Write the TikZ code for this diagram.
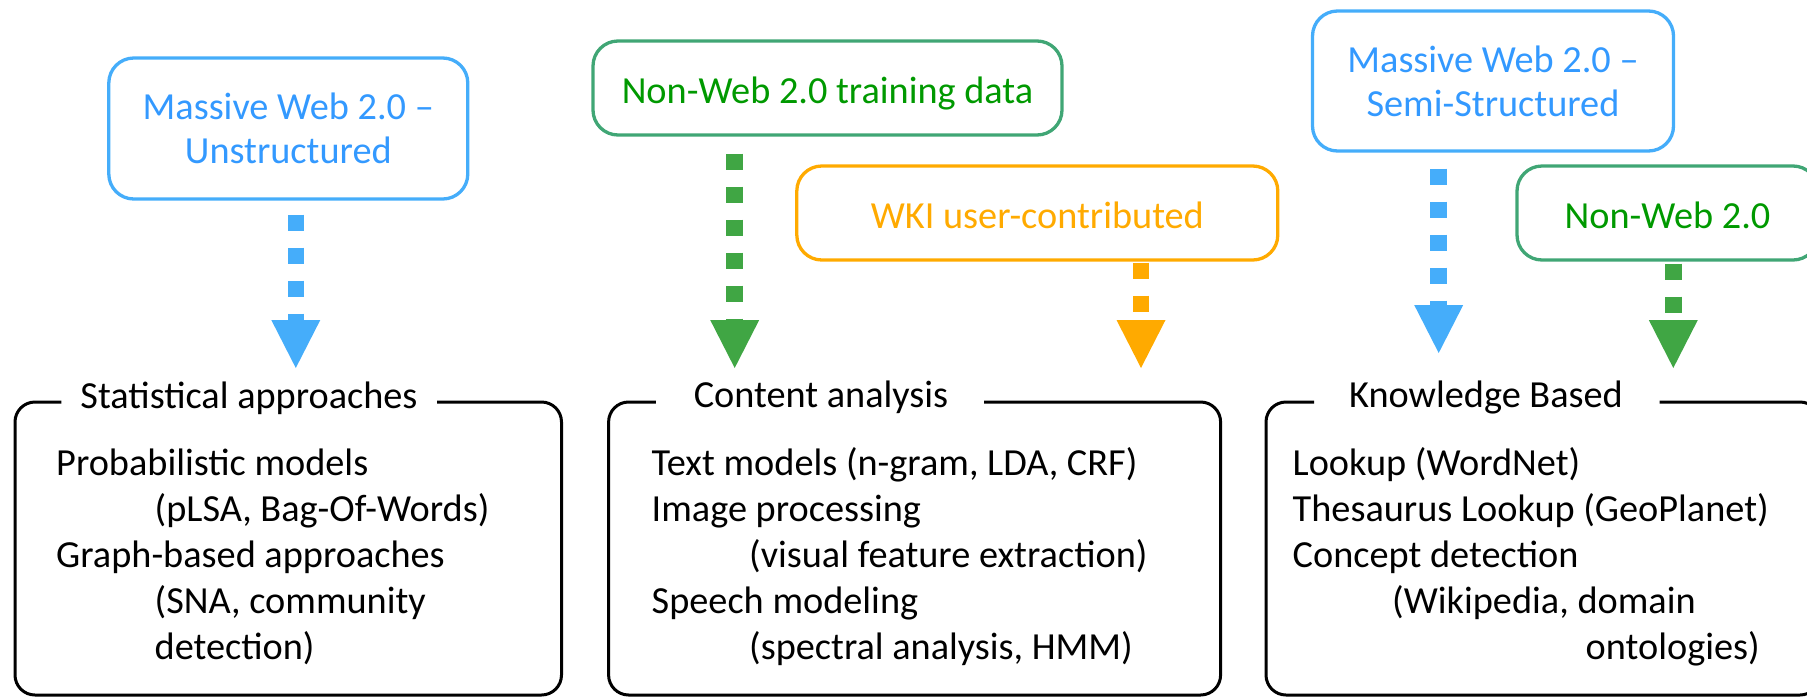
\documentclass[tikz,border=0pt]{standalone}
\usepackage{fontspec}
\setmainfont{Carlito}
\usetikzlibrary{arrows.meta}

\definecolor{webblue}{RGB}{69,173,250}
\definecolor{webbluetext}{RGB}{51,153,255}
\definecolor{nwgreen}{RGB}{64,166,117}
\definecolor{nwgreentext}{RGB}{0,153,0}
\definecolor{nwgreenarrow}{RGB}{64,166,68}
\definecolor{wkiorange}{RGB}{255,170,0}

\tikzset{
  src/.style={draw, rounded corners=25pt, line width=3.3pt, align=center, inner sep=0pt,
    font=\fontsize{38.3}{44}\selectfont},
  oneline/.style={text height=30pt, text depth=0pt},
  flow/.style={dash pattern=on 16pt off 17pt, line width=16.5pt,
    -{Triangle[width=49pt,length=48pt,line width=0pt]}},
  frame/.style={draw=black, line width=3pt, rounded corners=20pt},
  heading/.style={anchor=base, inner sep=0pt, font=\fontsize{38.3}{46}\selectfont},
  item/.style={anchor=base west, inner sep=0pt, font=\fontsize{38.3}{46}\selectfont},
}

\begin{document}
\begin{tikzpicture}[x=1pt, y=-1pt]
\useasboundingbox (0,0) rectangle (1807,697);
\clip (0,0) rectangle (1807,697);

% data sources
\node[src, draw=webblue, text=webbluetext, minimum width=359pt, minimum height=141pt]
  (b1) at (288.3,128.5) {Massive Web 2.0 –\\Unstructured};
\node[src, oneline, draw=nwgreen, text=nwgreentext, minimum width=469pt, minimum height=94pt]
  (b2) at (827.5,88) {Non-Web 2.0 training data};
\node[src, oneline, draw=wkiorange, text=wkiorange, minimum width=481pt, minimum height=94pt]
  (b3) at (1037.3,213) {WKI user-contributed};
\node[src, draw=webblue, text=webbluetext, minimum width=361pt, minimum height=140pt]
  (b4) at (1493,81) {Massive Web 2.0 –\\Semi-Structured};
\node[src, oneline, draw=nwgreen, text=nwgreentext, minimum width=301pt, minimum height=94pt]
  (b5) at (1667.5,213) {Non-Web 2.0};

% arrow tips just above the approach headings
\coordinate (t1) at (295.8,368);
\coordinate (t2) at (734.7,368);
\coordinate (t3) at (1141,368);
\coordinate (t4) at (1438.7,353);
\coordinate (t5) at (1673.3,368);

% dotted connectors
\draw[flow, webblue] ([yshift=-14pt]b1.south -| t1) -- (t1);
\draw[flow, nwgreenarrow] ([yshift=-17pt]b2.south -| t2) -- (t2);
\draw[flow, wkiorange] ([yshift=-1pt]b3.south -| t3) -- (t3);
\draw[flow, webblue] ([yshift=-16pt]b4.south -| t4) -- (t4);
\draw[flow, nwgreenarrow] ([yshift=-2pt]b5.south -| t5) -- (t5);

% statistical approaches
\node[heading] (h1) at (249,408) {Statistical approaches};
\draw[frame] (437,402) -- (561.5,402) -- (561.5,695) -- (15,695) -- (15,402) -- (61.3,402);
\node[item] (s1) at (56,475) {Probabilistic models};
\node[item] (s2) at (154.5,521) {(pLSA, Bag-Of-Words)};
\node[item] (s3) at (56,567) {Graph-based approaches};
\node[item] (s4) at (154.5,613) {(SNA, community};
\node[item] (s5) at (154.5,659) {detection)};

% content analysis
\node[heading] (h2) at (821,407) {Content analysis};
\draw[frame] (984,402) -- (1220.6,402) -- (1220.6,695) -- (608.6,695) -- (608.6,402) -- (655.8,402);
\node[item] (c1) at (651.5,475) {Text models (n-gram, LDA, CRF)};
\node[item] (c2) at (651.5,521) {Image processing};
\node[item] (c3) at (749,567) {(visual feature extraction)};
\node[item] (c4) at (651.5,613) {Speech modeling};
\node[item] (c5) at (749,659) {(spectral analysis, HMM)};

% knowledge based
\node[heading] (h3) at (1486,407) {Knowledge Based};
\draw[frame] (1659.5,402) -- (1820,402) -- (1820,695) -- (1266,695) -- (1266,402) -- (1314,402);
\node[item] (k1) at (1292.5,475) {Lookup (WordNet)};
\node[item] (k2) at (1292.5,521) {Thesaurus Lookup (GeoPlanet)};
\node[item] (k3) at (1292.5,567) {Concept detection};
\node[item] (k4) at (1392,613) {(Wikipedia, domain};
\node[item] (k5) at (1585.5,659) {ontologies)};
\end{tikzpicture}
\end{document}
